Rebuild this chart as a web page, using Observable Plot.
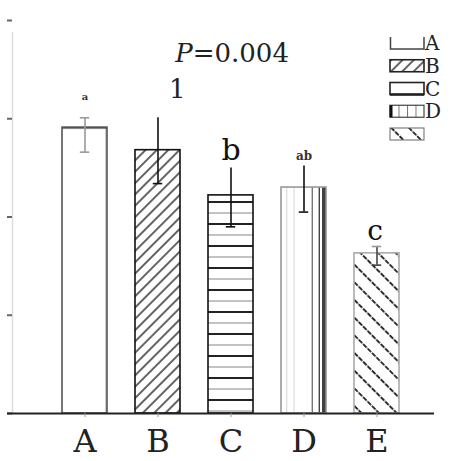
<!DOCTYPE html>
<html>
<head>
<meta charset="utf-8">
<script src="https://cdn.jsdelivr.net/npm/d3@7"></script>
<script src="https://cdn.jsdelivr.net/npm/@observablehq/plot@0.6"></script>
<style>
  html, body { margin: 0; padding: 0; background: #fff; }
  #wrap { position: relative; width: 457px; height: 461px; }
  #legend { position: absolute; left: 0; top: 0; pointer-events: none; }
</style>
</head>
<body>
<div id="wrap"></div>
<script>
// ---- data ----
const categories = ["A", "B", "C", "D", "E"];
const means      = [2.91, 2.68, 2.22, 2.30, 1.63];
const errLow     = [2.66, 2.34, 1.90, 2.05, 1.51];
const errHigh    = [3.01, 3.01, 2.50, 2.52, 1.70];
const sigLetters = ["a", "", "b", "ab", "c"];
const yTicks     = [0, 1, 2, 3, 4];
const pText      = ["P", "=0.004", "1"];
const legendLabels = ["A", "B", "C", "D", ""];
const leftLineTop = 3.88;

const data = categories.map((c, i) => ({cat: c, mean: means[i], lo: errLow[i], hi: errHigh[i], sig: sigLetters[i]}));

// ---- styles ----
const FONT = "DejaVu Serif";
const barStroke = {A: "#555", B: "#111", C: "#111", D: "#999", E: "#aaa"};
const errStroke = {A: "#999", B: "#111", C: "#111", D: "#111", E: "#444"};
const topCap = new Set(["A", "E"]);
const sigStyle = {
  A: {fontSize: 10, fontWeight: "bold", dy: -18, fill: "#333"},
  C: {fontSize: 30, fontWeight: "normal", dy: -8, fill: "#111"},
  D: {fontSize: 12, fontWeight: "bold", dy: -6, fill: "#333"},
  E: {fontSize: 28, fontWeight: "normal", dy: -6, fill: "#111", dx: -2}
};

const W = 457, H = 461;
const xRange = [46.6, 413.4];

const faintLine = (index, scales, values, dims) => {
  const g = d3.create("svg:g");
  g.append("line")
    .attr("x1", dims.marginLeft + 0.5).attr("x2", dims.marginLeft + 0.5)
    .attr("y1", scales.y(leftLineTop)).attr("y2", scales.y(0))
    .attr("stroke", "#ddd").attr("stroke-width", 1.5);
  return g.node();
};

const chart = Plot.plot({
  width: W,
  height: H,
  marginLeft: 12,
  marginRight: 23,
  marginTop: 20,
  marginBottom: 48,
  style: {fontFamily: FONT, background: "white", color: "#222"},
  x: {domain: categories, range: xRange, paddingInner: 0.39, paddingOuter: 0.195, label: null},
  y: {domain: [0, 4], label: null},
  color: {type: "identity"},
  marks: [
    faintLine,
    Plot.axisY({ticks: yTicks, tickSize: 5, tickFormat: () => "", stroke: "#666", strokeWidth: 2}),
    Plot.barY(data, {x: "cat", y: "mean", fill: d => `url(#pat${d.cat})`, stroke: d => barStroke[d.cat], strokeWidth: 1.6}),
    Plot.ruleX(data, {x: "cat", y1: "lo", y2: "hi", stroke: d => errStroke[d.cat], strokeWidth: 1.6}),
    Plot.tickY(data, {x: "cat", y: "lo", stroke: d => errStroke[d.cat], strokeWidth: 1.6, insetLeft: 17.8, insetRight: 17.8}),
    Plot.tickY(data.filter(d => topCap.has(d.cat)), {x: "cat", y: "hi", stroke: "#999", strokeWidth: 1.6, insetLeft: 17.8, insetRight: 17.8}),
    Plot.ruleY([0], {stroke: "#222", strokeWidth: 2.2, insetLeft: -5}),
    Plot.axisX({tickSize: 4, tickPadding: 12, fontSize: 32, stroke: "#999", fill: "#222", label: null}),
    ...data.filter(d => d.sig).map(d => Plot.text([d], {
      x: "cat", y: "hi", text: "sig", lineAnchor: "bottom", ...sigStyle[d.cat]
    })),
    Plot.text([pText[0]], {x: () => "C", frameAnchor: "top", text: d => d, dx: -38.3, dy: 41.7, lineAnchor: "bottom", textAnchor: "end", fontSize: 26, fontStyle: "italic", fill: "#222"}),
    Plot.text([pText[1]], {x: () => "C", frameAnchor: "top", text: d => d, dx: -38.3, dy: 41.7, lineAnchor: "bottom", textAnchor: "start", fontSize: 26, fill: "#222"}),
    Plot.text([pText[2]], {x: () => "C", frameAnchor: "top", text: d => d, dx: -62, dy: 77, lineAnchor: "bottom", textAnchor: "start", fontSize: 26, fill: "#222"})
  ]
});

// ---- patterns ----
const svg = d3.select(chart);
const defs = svg.insert("defs", ":first-child");

// A: plain white with light right edge and dark top
{
  const p = defs.append("pattern").attr("id", "patA").attr("patternUnits", "objectBoundingBox").attr("width", 1).attr("height", 1);
  p.append("rect").attr("width", 60).attr("height", 500).attr("fill", "#fff");
  p.append("line").attr("x1", 44).attr("x2", 44).attr("y1", 0).attr("y2", 500).attr("stroke", "#ccc").attr("stroke-width", 2);
  p.append("line").attr("x1", 0).attr("x2", 60).attr("y1", 0.5).attr("y2", 0.5).attr("stroke", "#222").attr("stroke-width", 2);
}
// B: "/" hatch
{
  const p = defs.append("pattern").attr("id", "patB").attr("patternUnits", "userSpaceOnUse").attr("width", 8).attr("height", 8).attr("patternTransform", "rotate(45)");
  p.append("rect").attr("width", 8).attr("height", 8).attr("fill", "#fff");
  p.append("line").attr("x1", 1).attr("x2", 1).attr("y1", 0).attr("y2", 8).attr("stroke", "#111").attr("stroke-width", 1.3);
}
// C: horizontal lines dark / light
{
  const p = defs.append("pattern").attr("id", "patC").attr("patternUnits", "userSpaceOnUse").attr("width", 10).attr("height", 22);
  p.append("rect").attr("width", 10).attr("height", 22).attr("fill", "#fff");
  p.append("line").attr("x1", 0).attr("x2", 10).attr("y1", 4).attr("y2", 4).attr("stroke", "#222").attr("stroke-width", 2);
  p.append("line").attr("x1", 0).attr("x2", 10).attr("y1", 15).attr("y2", 15).attr("stroke", "#aaa").attr("stroke-width", 1.4);
}
// D: vertical lines, fixed within bar
{
  const p = defs.append("pattern").attr("id", "patD").attr("patternUnits", "objectBoundingBox").attr("width", 1).attr("height", 1);
  p.append("rect").attr("width", 60).attr("height", 500).attr("fill", "#fff");
  [[5.7, "#ddd", 1.2], [13, "#ddd", 1.2], [31.3, "#777", 1.4], [38.3, "#444", 1.4], [42, "#111", 1.6], [44.2, "#111", 2]].forEach(([x, c, w]) => {
    p.append("line").attr("x1", x).attr("x2", x).attr("y1", 0).attr("y2", 500).attr("stroke", c).attr("stroke-width", w);
  });
}
// E: "\" hatch, dashed
{
  const p = defs.append("pattern").attr("id", "patE").attr("patternUnits", "userSpaceOnUse").attr("width", 12.5).attr("height", 12.5).attr("patternTransform", "rotate(-45)");
  p.append("rect").attr("width", 12.5).attr("height", 12.5).attr("fill", "#fff");
  p.append("line").attr("x1", 1).attr("x2", 1).attr("y1", 0).attr("y2", 12.5).attr("stroke", "#111").attr("stroke-width", 1.7).attr("stroke-dasharray", "5 1.25");
}
// legend D pattern
{
  const p = defs.append("pattern").attr("id", "lgD").attr("patternUnits", "userSpaceOnUse").attr("width", 8.5).attr("height", 10);
  p.append("rect").attr("width", 8.5).attr("height", 10).attr("fill", "#fff");
  p.append("line").attr("x1", 0.5).attr("x2", 0.5).attr("y1", 0).attr("y2", 10).attr("stroke", "#777").attr("stroke-width", 1);
}

const wrap = document.getElementById("wrap");
wrap.appendChild(chart);

// ---- legend ----
const lg = d3.select(wrap).append("svg").attr("id", "legend").attr("width", W).attr("height", H)
  .style("font-family", FONT);
const boxX = 390, boxW = 34, boxH = 12, top0 = 37, step = 22.75;
categories.forEach((c, i) => {
  const y = top0 + i * step;
  const g = lg.append("g").attr("transform", `translate(${boxX},${y})`);
  if (c === "A") {
    g.append("path").attr("d", `M0.5,0 V${boxH} H${boxW} V0`).attr("fill", "none").attr("stroke", "#444").attr("stroke-width", 1.5);
  } else if (c === "B") {
    g.append("rect").attr("width", boxW).attr("height", boxH).attr("fill", "url(#patB)").attr("stroke", "#222").attr("stroke-width", 1.6);
  } else if (c === "C") {
    g.append("rect").attr("width", boxW).attr("height", boxH).attr("fill", "#fff").attr("stroke", "#222").attr("stroke-width", 1.6);
    g.append("line").attr("x1", 0).attr("x2", boxW).attr("y1", boxH).attr("y2", boxH).attr("stroke", "#222").attr("stroke-width", 2.4);
  } else if (c === "D") {
    g.append("rect").attr("width", boxW).attr("height", boxH).attr("fill", "url(#lgD)").attr("stroke", "#444").attr("stroke-width", 1.2);
    g.append("line").attr("x1", 1).attr("x2", 1).attr("y1", 0).attr("y2", boxH).attr("stroke", "#111").attr("stroke-width", 3);
  } else {
    g.append("rect").attr("width", boxW).attr("height", boxH).attr("fill", "url(#patE)").attr("stroke", "#666").attr("stroke-width", 1);
  }
  if (legendLabels[i]) {
    lg.append("text").attr("x", boxX + boxW + 1).attr("y", y + boxH + 1)
      .attr("font-size", 20).attr("fill", "#222").text(legendLabels[i]);
  }
});
</script>
</body>
</html>
